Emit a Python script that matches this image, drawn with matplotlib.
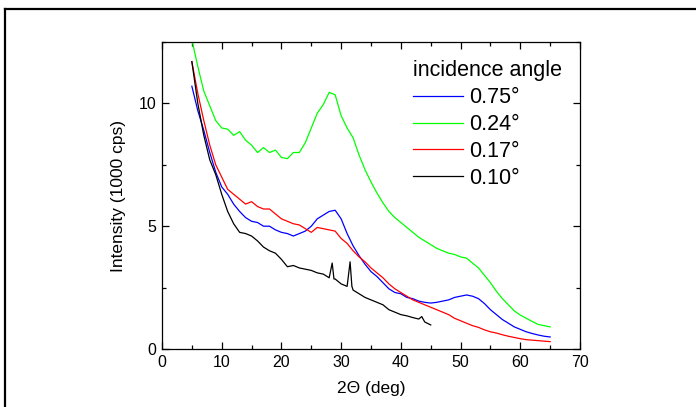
import matplotlib
matplotlib.use("Agg")
import matplotlib.pyplot as plt
from matplotlib.lines import Line2D
from matplotlib.ticker import MultipleLocator

plt.rcParams['font.family'] = ['Liberation Sans', 'DejaVu Sans']

# 2-theta grid (deg) for the three full scans
two_theta = list(range(5, 66))

# intensities (1000 cps)
int_075 = [10.7, 9.7, 8.9, 8.0, 7.2, 6.6, 6.3, 5.9, 5.6, 5.35,
           5.2, 5.15, 5.0, 5.0, 4.85, 4.75, 4.7, 4.6, 4.7, 4.8,
           5.0, 5.3, 5.45, 5.6, 5.65, 5.3, 4.7, 4.2, 3.8, 3.45,
           3.15, 2.95, 2.7, 2.45, 2.3, 2.25, 2.1, 2.05, 1.95, 1.9,
           1.87, 1.9, 1.95, 2.0, 2.1, 2.15, 2.2, 2.15, 2.05, 1.85,
           1.6, 1.4, 1.2, 1.05, 0.9, 0.8, 0.7, 0.63, 0.57, 0.52, 0.49]

int_024 = [12.6, 11.5, 10.5, 9.9, 9.3, 9.0, 8.95, 8.7, 8.85, 8.5,
           8.3, 8.0, 8.2, 8.0, 8.1, 7.8, 7.75, 8.0, 8.0, 8.4,
           9.0, 9.6, 9.95, 10.45, 10.35, 9.5, 9.0, 8.6, 7.9, 7.3,
           6.8, 6.35, 5.95, 5.6, 5.35, 5.15, 4.95, 4.75, 4.55, 4.4,
           4.25, 4.1, 4.0, 3.9, 3.85, 3.75, 3.7, 3.5, 3.3, 3.0,
           2.7, 2.35, 2.05, 1.8, 1.55, 1.38, 1.25, 1.12, 1.0, 0.95, 0.9]

int_017 = [11.7, 10.4, 9.3, 8.3, 7.5, 7.0, 6.5, 6.3, 6.1, 5.9,
           6.0, 5.8, 5.7, 5.7, 5.5, 5.3, 5.2, 5.1, 5.05, 4.9,
           4.75, 4.95, 4.9, 4.85, 4.8, 4.5, 4.3, 4.0, 3.75, 3.55,
           3.3, 3.1, 2.9, 2.65, 2.45, 2.3, 2.15, 2.0, 1.9, 1.8,
           1.7, 1.6, 1.5, 1.4, 1.25, 1.15, 1.05, 0.95, 0.88, 0.78,
           0.7, 0.65, 0.58, 0.52, 0.47, 0.42, 0.38, 0.36, 0.34, 0.32, 0.3]

# the 0.10 deg scan stops at 45 deg and has two sharp peaks
two_theta_010 = [5, 6, 7, 8, 9, 10, 11, 12, 13, 14, 15, 16, 17, 18, 19,
                 20, 21, 22, 23, 24, 25, 26, 27, 28, 28.5, 28.8, 29, 30,
                 31, 31.5, 31.8, 32, 33, 34, 35, 36, 37, 38, 39, 40, 41,
                 42, 43, 43.5, 44, 45]
int_010 = [11.7, 10.0, 8.7, 7.7, 7.1, 6.3, 5.6, 5.1, 4.75, 4.7, 4.6,
           4.4, 4.15, 4.0, 3.9, 3.65, 3.35, 3.4, 3.3, 3.25, 3.2, 3.1,
           3.05, 2.9, 3.5, 2.85, 2.85, 2.65, 2.55, 3.55, 2.55, 2.4,
           2.25, 2.1, 2.0, 1.9, 1.8, 1.6, 1.5, 1.4, 1.35, 1.28, 1.22,
           1.32, 1.1, 0.98]

labels = ["0.75°", "0.24°", "0.17°", "0.10°"]
colors = ["#0000ff", "#00ff00", "#ff0000", "#000000"]

fig = plt.figure(figsize=(6.96, 4.07), dpi=100)
ax = fig.add_axes([162 / 696, 1 - 349 / 407, 418 / 696, 307 / 407])

series = [(two_theta, int_075), (two_theta, int_024),
          (two_theta, int_017), (two_theta_010, int_010)]
for (x, y), lab, c in zip(series, labels, colors):
    ax.plot(x, y, color=c, lw=0.9, label=lab)

ax.set_xlim(0, 70)
ax.set_ylim(0, 12.5)
ax.xaxis.set_major_locator(MultipleLocator(10))
ax.xaxis.set_minor_locator(MultipleLocator(5))
ax.yaxis.set_major_locator(MultipleLocator(5))
ax.yaxis.set_minor_locator(MultipleLocator(2.5))
ax.tick_params(which="both", direction="in", top=True, right=True,
               labelsize=11.5, width=0.9, pad=4)
ax.tick_params(which="major", length=5)
ax.tick_params(which="minor", length=3)
for s in ax.spines.values():
    s.set_linewidth(0.9)

ax.set_xlabel("2\u0398 (deg)", fontsize=12.5, labelpad=8)
ax.set_ylabel("Intensity (1000 cps)", fontsize=12.5, labelpad=9)

leg = ax.legend(title="incidence angle", loc="upper left",
                bbox_to_anchor=(0.6005, 0.94), frameon=False, fontsize=15.5,
                title_fontsize=15.5, handlelength=2.3, handletextpad=0.3,
                labelspacing=0.27, borderpad=0, borderaxespad=0,
                alignment="left")

# frame lines of the original page (top and left only)
fig.add_artist(Line2D([5 / 696, 1], [1 - 8.5 / 407, 1 - 8.5 / 407],
                      transform=fig.transFigure, color="k", lw=1.6))
fig.add_artist(Line2D([5 / 696, 5 / 696], [0, 1 - 8.5 / 407],
                      transform=fig.transFigure, color="k", lw=1.6))

fig.savefig("out.png", dpi=100)
